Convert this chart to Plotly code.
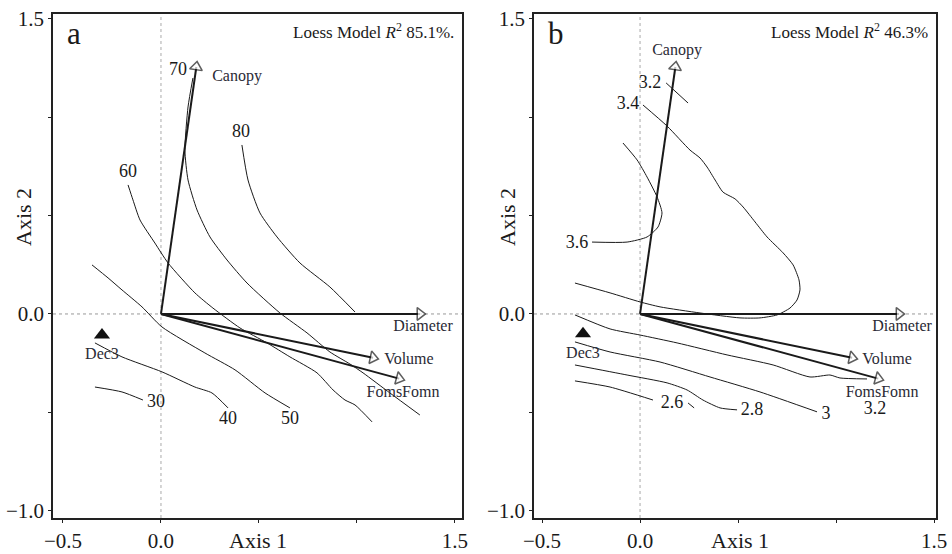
import plotly.graph_objects as go

# ---------------- data ----------------
vectors = ["Canopy", "Diameter", "Volume", "FomsFomn"]
vec_x = [0.184, 1.347, 1.107, 1.240]
vec_y = [1.279, 0.0, -0.228, -0.335]

vec_lab_a_x = [0.388, 1.337, 1.265, 1.235]
vec_lab_a_y = [1.203, -0.066, -0.233, -0.401]
vec_lab_b_x = [0.189, 1.337, 1.260, 1.235]
vec_lab_b_y = [1.335, -0.066, -0.233, -0.401]

site_name = "Dec3"
site_a = (-0.301, -0.107)
site_b = (-0.291, -0.100)
site_lab_a = (-0.301, -0.208)
site_lab_b = (-0.291, -0.203)

# panel a contours
c_a_80_x = [0.413, 0.444, 0.505, 0.592, 0.709, 0.862, 0.990]
c_a_80_y = [0.858, 0.680, 0.513, 0.391, 0.259, 0.137, 0.010]
c_a_70_x = [0.163, 0.138, 0.122, 0.138, 0.184, 0.250, 0.337, 0.439, 0.607, 0.745, 0.862, 0.964, 1.031, 1.168, 1.321]
c_a_70_y = [1.198, 1.051, 0.832, 0.680, 0.528, 0.391, 0.274, 0.157, 0.005, -0.096, -0.193, -0.254, -0.299, -0.401, -0.513]
c_a_60_x = [-0.168, -0.143, -0.107, -0.031, 0.036, 0.173, 0.265, 0.403, 0.541, 0.658, 0.796, 0.878, 0.939, 0.990, 1.077]
c_a_60_y = [0.655, 0.579, 0.477, 0.360, 0.259, 0.107, 0.030, -0.071, -0.147, -0.218, -0.299, -0.386, -0.437, -0.462, -0.548]
c_a_50_x = [-0.352, -0.270, -0.199, -0.097, 0.005, 0.224, 0.378, 0.531, 0.658]
c_a_50_y = [0.249, 0.183, 0.122, 0.036, -0.066, -0.198, -0.284, -0.401, -0.477]
c_a_40_x = [-0.337, -0.199, 0.005, 0.173, 0.260, 0.342]
c_a_40_y = [-0.147, -0.218, -0.294, -0.371, -0.401, -0.477]
c_a_30_x = [-0.337, -0.199, -0.092]
c_a_30_y = [-0.371, -0.396, -0.437]

lab_a_text = ["80", "70", "60", "50", "40", "30"]
lab_a_x = [0.408, 0.087, -0.168, 0.658, 0.342, -0.026]
lab_a_y = [0.919, 1.234, 0.716, -0.538, -0.538, -0.447]

# panel b contours
c_b_32t_x = [0.133, 0.245]
c_b_32t_y = [1.173, 1.071]
c_b_34_x = [0.015, 0.138, 0.255, 0.306, 0.342, 0.383, 0.423, 0.485, 0.526, 0.587, 0.648, 0.730, 0.781, 0.811,
            0.816, 0.801, 0.765, 0.699, 0.612, 0.510, 0.306, 0.102, 0.0, -0.153, -0.332]
c_b_34_y = [1.061, 0.954, 0.832, 0.792, 0.746, 0.680, 0.619, 0.584, 0.543, 0.467, 0.391, 0.310, 0.249, 0.173,
            0.122, 0.071, 0.030, -0.005, -0.020, -0.020, 0.005, 0.036, 0.061, 0.107, 0.157]
c_b_36_x = [-0.087, -0.015, 0.036, 0.087, 0.112, 0.092, 0.036, -0.066, -0.245]
c_b_36_y = [0.868, 0.782, 0.695, 0.594, 0.513, 0.442, 0.391, 0.365, 0.365]
c_b_32_x = [-0.332, -0.153, 0.0, 0.189, 0.444, 0.679, 0.867, 0.969, 1.020, 1.158]
c_b_32_y = [-0.005, -0.076, -0.107, -0.147, -0.208, -0.259, -0.320, -0.310, -0.325, -0.330]
c_b_30_x = [-0.332, -0.153, 0.102, 0.357, 0.612, 0.903]
c_b_30_y = [-0.142, -0.193, -0.244, -0.320, -0.396, -0.497]
c_b_28_x = [-0.332, -0.066, 0.138, 0.240, 0.321, 0.408, 0.495]
c_b_28_y = [-0.259, -0.310, -0.350, -0.386, -0.437, -0.477, -0.487]
c_b_26_x = [-0.332, -0.153, 0.066]
c_b_26_y = [-0.340, -0.371, -0.437]
c_b_26f_x = [0.245, 0.276]
c_b_26f_y = [-0.452, -0.477]

lab_b_text = ["3.2", "3.4", "3.6", "3.2", "3", "2.8", "2.6"]
lab_b_x = [0.051, -0.061, -0.321, 1.199, 0.949, 0.571, 0.163]
lab_b_y = [1.168, 1.061, 0.360, -0.487, -0.508, -0.492, -0.457]

r2_text = ["Loess Model <i>R</i><sup>2</sup> 85.1%.", "Loess Model <i>R</i><sup>2</sup> 46.3%"]
panel_text = ["a", "b"]

x_ticks = [-0.5, 0.0, 0.5, 1.0, 1.5]
x_ticktext = ["\u22120.5", "0.0", " ", " ", "1.5"]
y_ticks = [-1.0, -0.5, 0.0, 0.5, 1.0, 1.5]
y_ticktext = ["\u22121.0", " ", "0.0", " ", " ", "1.5"]

# ---------------- figure ----------------
FONT = "Liberation Serif"
INK = "#1a1a1a"
fig = go.Figure()

contours_a = [(c_a_80_x, c_a_80_y), (c_a_70_x, c_a_70_y), (c_a_60_x, c_a_60_y),
              (c_a_50_x, c_a_50_y), (c_a_40_x, c_a_40_y), (c_a_30_x, c_a_30_y)]
contours_b = [(c_b_32t_x, c_b_32t_y), (c_b_34_x, c_b_34_y), (c_b_36_x, c_b_36_y),
              (c_b_32_x, c_b_32_y), (c_b_30_x, c_b_30_y), (c_b_28_x, c_b_28_y),
              (c_b_26_x, c_b_26_y), (c_b_26f_x, c_b_26f_y)]

panels = [
    dict(xa="x", ya="y", contours=contours_a, lab=(lab_a_text, lab_a_x, lab_a_y),
         vlab=(vec_lab_a_x, vec_lab_a_y), site=site_a, site_lab=site_lab_a),
    dict(xa="x2", ya="y2", contours=contours_b, lab=(lab_b_text, lab_b_x, lab_b_y),
         vlab=(vec_lab_b_x, vec_lab_b_y), site=site_b, site_lab=site_lab_b),
]

for p in panels:
    for cx, cy in p["contours"]:
        fig.add_trace(go.Scatter(x=cx, y=cy, mode="lines", xaxis=p["xa"], yaxis=p["ya"],
                                 line=dict(color=INK, width=1, shape="spline", smoothing=0.6),
                                 hoverinfo="skip", showlegend=False))
    t, lx, ly = p["lab"]
    fig.add_trace(go.Scatter(x=lx, y=ly, text=t, mode="text", xaxis=p["xa"], yaxis=p["ya"],
                             textfont=dict(family=FONT, size=18, color=INK),
                             hoverinfo="skip", showlegend=False))
    for i, name in enumerate(vectors):
        fig.add_trace(go.Scatter(x=[0, vec_x[i]], y=[0, vec_y[i]], mode="lines+markers",
                                 xaxis=p["xa"], yaxis=p["ya"],
                                 line=dict(color=INK, width=2),
                                 marker=dict(symbol="triangle-up", size=[0, 11], color="white",
                                             angleref="previous", standoff=5,
                                             line=dict(color=INK, width=1.5)),
                                 hoverinfo="skip", showlegend=False))
    vx, vy = p["vlab"]
    fig.add_trace(go.Scatter(x=vx, y=vy, text=vectors, mode="text", xaxis=p["xa"], yaxis=p["ya"],
                             textfont=dict(family=FONT, size=16, color="#2a2a35"),
                             hoverinfo="skip", showlegend=False))
    fig.add_trace(go.Scatter(x=[p["site"][0]], y=[p["site"][1]], mode="markers",
                             xaxis=p["xa"], yaxis=p["ya"],
                             marker=dict(symbol="triangle-up", size=14, color="#111"),
                             hoverinfo="skip", showlegend=False))
    fig.add_trace(go.Scatter(x=[p["site_lab"][0]], y=[p["site_lab"][1]], text=[site_name], mode="text",
                             xaxis=p["xa"], yaxis=p["ya"],
                             textfont=dict(family=FONT, size=16, color="#2a2a35"),
                             hoverinfo="skip", showlegend=False))

axis_common = dict(showgrid=False, zeroline=False, showline=True, linecolor="#222", linewidth=1.6,
                   mirror=True, ticks="outside", ticklen=3, tickcolor="#222", tickwidth=1.2,
                   automargin=False,
                   tickfont=dict(family=FONT, size=21, color=INK))

fig.update_layout(
    width=952, height=554, margin=dict(l=0, r=0, t=0, b=0, pad=0), autosize=False,
    paper_bgcolor="white", plot_bgcolor="white",
    xaxis=dict(domain=[53 / 952, 462 / 952], range=[-0.551, 1.536], tickvals=x_ticks,
               ticktext=x_ticktext, anchor="y", **axis_common),
    yaxis=dict(domain=[1 - 518 / 554, 1 - 14 / 554], range=[-1.036, 1.523], tickvals=y_ticks,
               ticktext=y_ticktext, anchor="x", **axis_common),
    xaxis2=dict(domain=[534 / 952, 936 / 952], range=[-0.541, 1.510], tickvals=x_ticks,
                ticktext=x_ticktext, anchor="y2", **axis_common),
    yaxis2=dict(domain=[1 - 518 / 554, 1 - 14 / 554], range=[-1.036, 1.523], tickvals=y_ticks,
                ticktext=y_ticktext, anchor="x2", **axis_common),
)

shapes = []
for xr, yr in [("x", "y"), ("x2", "y2")]:
    shapes.append(dict(type="line", xref=xr + " domain", yref=yr, x0=0, x1=1, y0=0, y1=0,
                       line=dict(color="#999", width=1, dash="dot"), layer="below"))
    shapes.append(dict(type="line", xref=xr, yref=yr + " domain", x0=0, x1=0, y0=0, y1=1,
                       line=dict(color="#aaa", width=1, dash="dot"), layer="below"))
fig.update_layout(shapes=shapes)

annotations = []
for k, (xr, yr) in enumerate([("x", "y"), ("x2", "y2")]):
    annotations.append(dict(text=r2_text[k], xref=xr + " domain", yref=yr + " domain", x=0.985, y=0.966,
                            xanchor="right", yanchor="middle", showarrow=False,
                            font=dict(family=FONT, size=17, color=INK)))
    annotations.append(dict(text=panel_text[k], xref=xr + " domain", yref=yr + " domain", x=0.03, y=0.962,
                            xanchor="left", yanchor="middle", showarrow=False,
                            font=dict(family=FONT, size=31, color=INK)))
annotations += [
    dict(text="Axis 1", xref="paper", yref="paper", x=258 / 952, y=1 - 540 / 554, showarrow=False,
         xanchor="center", yanchor="middle", font=dict(family=FONT, size=22, color=INK)),
    dict(text="Axis 1", xref="paper", yref="paper", x=740 / 952, y=1 - 540 / 554, showarrow=False,
         xanchor="center", yanchor="middle", font=dict(family=FONT, size=22, color=INK)),
    dict(text="Axis 2", xref="paper", yref="paper", x=23 / 952, y=1 - 217 / 554, showarrow=False,
         xanchor="center", yanchor="middle", textangle=-90, font=dict(family=FONT, size=22, color=INK)),
    dict(text="Axis 2", xref="paper", yref="paper", x=507 / 952, y=1 - 217 / 554, showarrow=False,
         xanchor="center", yanchor="middle", textangle=-90, font=dict(family=FONT, size=22, color=INK)),
]
fig.update_layout(annotations=annotations)

fig.write_html("out.html")
